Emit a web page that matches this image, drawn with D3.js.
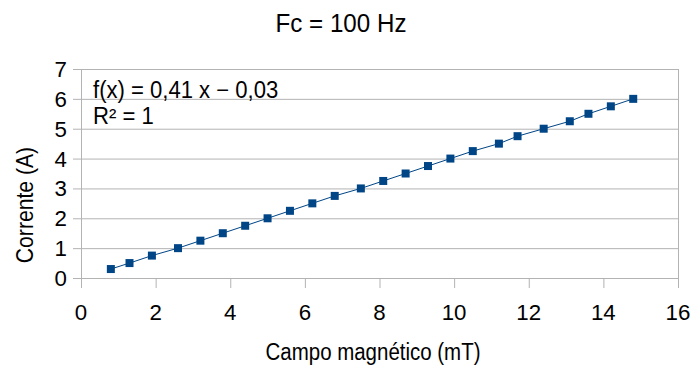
<!DOCTYPE html>
<html lang="pt">
<head>
<meta charset="UTF-8">
<title>Fc = 100 Hz</title>
<script src="https://d3js.org/d3.v7.min.js"></script>
<style>
  body { margin: 0; background: #fff; }
  svg { display: block; font-family: "Liberation Sans", Arial, sans-serif; }
</style>
</head>
<body>
<svg id="chart"></svg>
<script>
// measured field (mT) and current (A)
const campo = [0.8, 1.3, 1.9, 2.6, 3.2, 3.8, 4.4, 5.0, 5.6, 6.2, 6.8, 7.5,
               8.1, 8.7, 9.3, 9.9, 10.5, 11.2, 11.7, 12.4, 13.1, 13.6, 14.2, 14.8];
const corrente = [0.3, 0.5, 0.75, 1.0, 1.25, 1.5, 1.75, 2.0, 2.25, 2.5, 2.75, 3.0,
                  3.25, 3.5, 3.75, 4.0, 4.25, 4.5, 4.75, 5.0, 5.25, 5.5, 5.75, 6.0];
const xTicks = [0, 2, 4, 6, 8, 10, 12, 14, 16];
const yTicks = [0, 1, 2, 3, 4, 5, 6, 7];
// linear fit shown on the chart
const slope = 0.41, intercept = -0.03;

const width = 693, height = 369;
const svg = d3.select('#chart').attr('width', width).attr('height', height);

const x = d3.scaleLinear().domain([0, 16]).range([81, 678]);
const y = d3.scaleLinear().domain([0, 7]).range([278, 69]);
const grey = '#b3b3b3';
const blue = '#004586';

// text drawn slightly condensed, like the office export
function label(tx, ty, str, size, sx, anchor, rot) {
  return svg.append('text')
    .attr('transform', `translate(${tx},${ty})` + (rot ? ` rotate(${rot})` : '') + ` scale(${sx},1)`)
    .attr('text-anchor', anchor || 'start')
    .attr('font-size', size)
    .attr('fill', '#000')
    .text(str);
}

// horizontal grid
svg.append('g')
  .selectAll('line')
  .data(yTicks)
  .join('line')
  .attr('x1', x(0) - 8).attr('x2', x(16))
  .attr('y1', d => y(d) + 0.5).attr('y2', d => y(d) + 0.5)
  .attr('stroke', grey).attr('stroke-width', 1);

// x axis ticks
svg.append('g')
  .selectAll('line')
  .data(xTicks)
  .join('line')
  .attr('x1', d => x(d) + 0.5).attr('x2', d => x(d) + 0.5)
  .attr('y1', y(0)).attr('y2', y(0) + 10)
  .attr('stroke', grey).attr('stroke-width', 1);

// left axis and right edge
svg.append('line')
  .attr('x1', x(0) + 0.5).attr('x2', x(0) + 0.5)
  .attr('y1', y(7)).attr('y2', y(0) + 10)
  .attr('stroke', grey);
svg.append('line')
  .attr('x1', x(16) + 0.5).attr('x2', x(16) + 0.5)
  .attr('y1', y(7)).attr('y2', y(0) + 10)
  .attr('stroke', grey);

// tick labels
yTicks.forEach(d => label(67, y(d) + 8, d, 23, 0.97, 'end'));
xTicks.forEach(d => label(x(d), 320, d, 23, 0.97, 'middle'));

// connecting line
const line = d3.line().x((d, i) => x(campo[i])).y(d => y(d));
svg.append('path')
  .datum(corrente)
  .attr('d', line)
  .attr('fill', 'none')
  .attr('stroke', blue)
  .attr('stroke-width', 1);

// markers
svg.append('g')
  .selectAll('rect')
  .data(corrente)
  .join('rect')
  .attr('x', (d, i) => x(campo[i]) - 4)
  .attr('y', d => y(d) - 4)
  .attr('width', 8).attr('height', 8)
  .attr('fill', blue);

// regression text
const fmt = v => v.toFixed(2).replace('.', ',');
label(93, 98, `f(x) = ${fmt(slope)} x \u2212 ${fmt(Math.abs(intercept))}`, 23, 0.96);
label(93, 124, 'R\u00b2 = 1', 23, 0.96);

// titles
label(341, 32, 'Fc = 100 Hz', 26, 0.93, 'middle');
label(373, 360, 'Campo magnético (mT)', 23, 0.89, 'middle');
label(33, 205, 'Corrente (A)', 23, 0.92, 'middle', -90);
</script>
</body>
</html>
